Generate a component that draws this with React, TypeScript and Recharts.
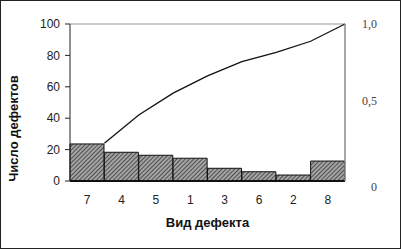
import { ComposedChart, Bar, Line, XAxis, YAxis, ReferenceLine } from "recharts";

// defect types, sorted as in the Pareto chart
const categories = ["7", "4", "5", "1", "3", "6", "2", "8"];
// number of defects per type
const counts = [23.6, 18.3, 16.4, 14.5, 8.1, 5.9, 3.8, 12.7];
// cumulative share, read at the right edge of each bar
const cumulative = [0.24, 0.42, 0.56, 0.67, 0.76, 0.82, 0.89, 1.0];

const leftTicks = [0, 20, 40, 60, 80, 100];
const rightTicks = [0, 0.5, 1];

const data = categories.map((name, i) => ({
    name,
    count: counts[i],
    pos: i + 1,
    cum: cumulative[i],
}));

const rightLabel = (v: number) => (v === 0 ? "0" : v.toFixed(1).replace(".", ","));

function RightTick(props: any) {
    const { x, y, payload } = props;
    const v = payload.value;
    const shift = v === 0 ? 6 : v === 0.5 ? -2 : 0;
    return (
        <text
            x={x + 24}
            y={y + shift}
            dy="0.35em"
            textAnchor="end"
            fontFamily="'Liberation Serif', 'Times New Roman', serif"
            fontSize={12}
            fill="#444"
        >
            {rightLabel(v)}
        </text>
    );
}

export default function App() {
    return (
        <div style={{ position: "absolute", left: 0, top: 0, width: 401, height: 249, background: "#fff" }}>
            <svg width={0} height={0} style={{ position: "absolute" }}>
                <defs>
                    <pattern id="hatch" width={3} height={3} patternUnits="userSpaceOnUse" patternTransform="rotate(45)">
                        <rect width={3} height={3} fill="#a4a4a4" />
                        <line x1={0} y1={0} x2={0} y2={3} stroke="#2a2a2a" strokeWidth={1.4} />
                    </pattern>
                </defs>
            </svg>
            <ComposedChart
                width={401}
                height={249}
                data={data}
                margin={{ top: 24, right: 0, bottom: 0, left: 0 }}
                barCategoryGap={0}
                style={{ fontFamily: "'Liberation Sans', Arial, sans-serif" }}
            >
                <XAxis
                    xAxisId="cat"
                    dataKey="name"
                    height={68}
                    axisLine={{ stroke: "#111", strokeWidth: 2 }}
                    tickLine={false}
                    tick={{ fill: "#222", fontSize: 12 }}
                    tickMargin={8}
                    label={{
                        value: "Вид дефекта",
                        position: "insideBottom",
                        offset: 22,
                        style: { fontWeight: "bold", fontSize: 13, fill: "#111" },
                    }}
                />
                <XAxis xAxisId="num" type="number" dataKey="pos" domain={[0, 8]} hide />
                <YAxis
                    yAxisId="left"
                    width={70}
                    domain={[0, 100]}
                    ticks={leftTicks}
                    interval={0}
                    axisLine={{ stroke: "#222" }}
                    tickLine={{ stroke: "#222" }}
                    tickSize={5}
                    tickMargin={5}
                    tick={{ fill: "#222", fontSize: 12 }}
                    label={{
                        content: (p: any) => {
                            const vb = p.viewBox;
                            const cx = vb.x + 13;
                            const cy = vb.y + vb.height / 2 + 26;
                            return (
                                <text
                                    x={cx}
                                    y={cy}
                                    transform={`rotate(-90 ${cx} ${cy})`}
                                    textAnchor="middle"
                                    dy="0.35em"
                                    fontWeight="bold"
                                    fontSize={13}
                                    fill="#111"
                                >
                                    Число дефектов
                                </text>
                            );
                        },
                    }}
                />
                <YAxis
                    yAxisId="right"
                    orientation="right"
                    width={56}
                    domain={[0, 1]}
                    ticks={rightTicks}
                    interval={0}
                    axisLine={{ stroke: "#8a8a8a", strokeWidth: 1.5 }}
                    tickLine={false}
                    tick={<RightTick />}
                />
                <ReferenceLine xAxisId="cat" yAxisId="left" y={100} stroke="#9a9a9a" strokeWidth={1.2} />
                <Bar
                    xAxisId="cat"
                    yAxisId="left"
                    dataKey="count"
                    fill="url(#hatch)"
                    stroke="#111"
                    strokeWidth={1}
                    isAnimationActive={false}
                />
                <Line
                    xAxisId="num"
                    yAxisId="right"
                    dataKey="cum"
                    type="linear"
                    stroke="#111"
                    strokeWidth={1.3}
                    dot={false}
                    activeDot={false}
                    isAnimationActive={false}
                />
            </ComposedChart>
            <div
                style={{
                    position: "absolute",
                    inset: 0,
                    border: "1.5px solid #222",
                    boxSizing: "border-box",
                    pointerEvents: "none",
                }}
            />
        </div>
    );
}
